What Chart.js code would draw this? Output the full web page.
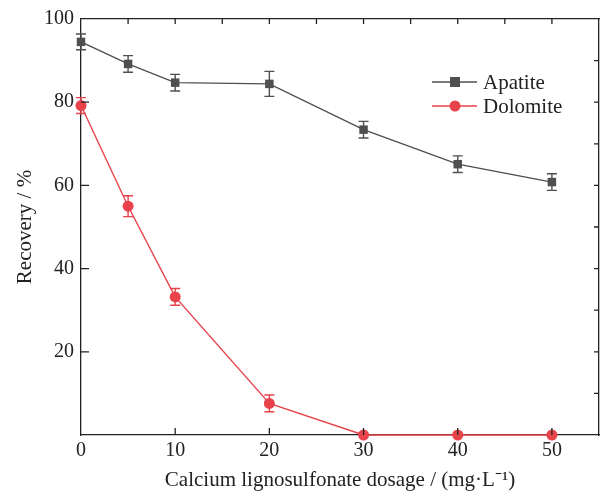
<!DOCTYPE html>
<html>
<head>
<meta charset="utf-8">
<script src="https://cdn.jsdelivr.net/npm/chart.js@4/dist/chart.umd.min.js"></script>
<style>
  html, body { margin: 0; padding: 0; background: #fff; }
  #wrap { width: 605px; height: 493px; }
</style>
</head>
<body>
<div id="wrap"><canvas id="chart" width="605" height="493"></canvas></div>
<script>
const dosage = [0, 5, 10, 20, 30, 40, 50];
const apatite = [94.5, 89.2, 84.7, 84.4, 73.4, 65.1, 60.8];
const apatiteErr = [1.9, 2.0, 2.0, 3.0, 2.0, 2.0, 2.0];
const dolomite = [79.2, 55.0, 33.2, 7.6, 0, 0, 0];
const dolomiteErr = [1.9, 2.5, 2.0, 2.0, 0, 0, 0];
const xTicks = [0, 10, 20, 30, 40, 50];
const yTicks = [20, 40, 60, 80, 100];

const grey = '#4f4f4f';
const red = '#e8424b';
const serif = '"Liberation Serif", "Times New Roman", serif';

// error bars, inward ticks on all four sides and the legend
const extras = {
  id: 'extras',
  afterDatasetsDraw(chart) {
    const ctx = chart.ctx;
    const xs = chart.scales.x, ys = chart.scales.y;
    const a = chart.chartArea;
    ctx.save();

    chart.data.datasets.forEach(ds => {
      ctx.strokeStyle = ds.borderColor;
      ctx.lineWidth = 1.4;
      ds.data.forEach((p, i) => {
        const e = ds.errors[i];
        if (!e) return;
        const x = xs.getPixelForValue(p.x);
        const y1 = ys.getPixelForValue(p.y + e);
        const y2 = ys.getPixelForValue(p.y - e);
        ctx.beginPath();
        ctx.moveTo(x, y1); ctx.lineTo(x, y2);
        ctx.moveTo(x - 5, y1); ctx.lineTo(x + 5, y1);
        ctx.moveTo(x - 5, y2); ctx.lineTo(x + 5, y2);
        ctx.stroke();
      });
    });

    ctx.strokeStyle = '#222';
    ctx.lineWidth = 1.3;
    ctx.beginPath();
    for (let v = 5; v < 55; v += 5) {
      const x = xs.getPixelForValue(v);
      if (v % 10 === 0) { ctx.moveTo(x, a.bottom); ctx.lineTo(x, a.bottom - 7); }
      ctx.moveTo(x, a.top); ctx.lineTo(x, a.top + 5);
    }
    for (let v = 10; v < 100; v += 10) {
      const y = ys.getPixelForValue(v);
      if (v % 20 === 0) { ctx.moveTo(a.left, y); ctx.lineTo(a.left + 8, y); }
      ctx.moveTo(a.right, y); ctx.lineTo(a.right - 5, y);
    }
    ctx.stroke();

    // legend
    ctx.font = '21px ' + serif;
    ctx.textBaseline = 'middle';
    chart.data.datasets.forEach((ds, i) => {
      const y = 82 + i * 24;
      ctx.strokeStyle = ds.borderColor;
      ctx.lineWidth = 1.4;
      ctx.beginPath();
      ctx.moveTo(432, y); ctx.lineTo(477, y);
      ctx.stroke();
      ctx.fillStyle = ds.backgroundColor;
      if (ds.pointStyle === 'rect') {
        ctx.fillRect(450, y - 5, 10, 10);
      } else {
        ctx.beginPath(); ctx.arc(455, y, 5.5, 0, Math.PI * 2); ctx.fill();
      }
      ctx.fillStyle = '#222';
      ctx.fillText(ds.label, 483, y + 1);
    });
    ctx.restore();
  }
};

new Chart(document.getElementById('chart'), {
  type: 'line',
  data: {
    datasets: [{
      label: 'Apatite',
      data: dosage.map((d, i) => ({ x: d, y: apatite[i] })),
      errors: apatiteErr,
      borderColor: grey,
      backgroundColor: grey,
      borderWidth: 1.4,
      pointStyle: 'rect',
      pointRadius: 6,
      pointBorderWidth: 0
    }, {
      label: 'Dolomite',
      data: dosage.map((d, i) => ({ x: d, y: dolomite[i] })),
      errors: dolomiteErr,
      borderColor: red,
      backgroundColor: red,
      borderWidth: 1.4,
      pointStyle: 'circle',
      pointRadius: 5.5,
      pointBorderWidth: 0
    }]
  },
  options: {
    responsive: false,
    animation: false,
    clip: false,
    layout: { padding: { top: 17, right: 6, left: 0, bottom: 0 } },
    plugins: { legend: { display: false }, tooltip: { enabled: false } },
    scales: {
      x: {
        type: 'linear',
        min: 0, max: 55,
        afterBuildTicks: s => { s.ticks = xTicks.map(v => ({ value: v })); },
        afterFit: s => { s.height = 58; },
        grid: { display: false, drawTicks: false },
        border: { display: true, color: '#222', width: 1.3 },
        ticks: { color: '#222', padding: 4, maxRotation: 0, font: { family: serif, size: 20 } },
        title: {
          display: true,
          text: 'Calcium lignosulfonate dosage / (mg·L⁻¹)',
          color: '#222',
          padding: { top: 10, bottom: 0 },
          font: { family: serif, size: 21 }
        }
      },
      y: {
        min: 0, max: 100,
        afterBuildTicks: s => { s.ticks = yTicks.map(v => ({ value: v })); },
        afterFit: s => { s.width = 81; },
        grid: { display: false, drawTicks: false },
        border: { display: true, color: '#222', width: 1.3 },
        ticks: { color: '#222', padding: 7, font: { family: serif, size: 20 } },
        title: {
          display: true,
          text: 'Recovery / %',
          color: '#222',
          padding: { top: 13, bottom: 4 },
          font: { family: serif, size: 21 }
        }
      },
      x2: {
        type: 'linear', position: 'top', min: 0, max: 55,
        ticks: { display: false }, grid: { display: false, drawTicks: false },
        border: { display: true, color: '#222', width: 1.3 },
        afterFit: s => { s.height = 0; }
      },
      y2: {
        position: 'right', min: 0, max: 100,
        ticks: { display: false }, grid: { display: false, drawTicks: false },
        border: { display: true, color: '#222', width: 1.3 },
        afterFit: s => { s.width = 0; }
      }
    }
  },
  plugins: [extras]
});
</script>
</body>
</html>
